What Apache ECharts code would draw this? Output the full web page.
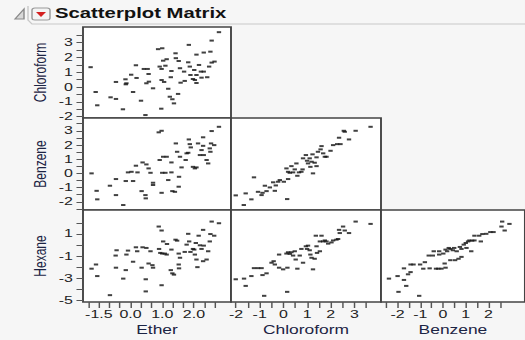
<!DOCTYPE html>
<html>
<head>
<meta charset="utf-8">
<script src="https://cdn.jsdelivr.net/npm/echarts@6/dist/echarts.min.js"></script>
<style>
  html, body { margin: 0; padding: 0; background: #f6f6f6; overflow: hidden; }
  /* the reference is stretched sideways, so the chart is drawn narrow and widened */
  #chart { width: 362px; height: 340px; transform: scaleX(1.45); transform-origin: 0 0; }
</style>
</head>
<body>
<div id="chart"></div>
<script>
// horizontal stretch of the reference picture
const S = 1.45;
const px = v => v / S;

// tick positions and labels per variable
const etherTicks = [-1.333, -1, -0.667, -0.333, 0, 0.333, 0.667, 1, 1.333, 1.667, 2, 2.333, 2.667];
const etherLabels = [-1, 0, 1, 2];
const etherLabelText = ['-1.5', '0.0', '1.0', '2.0'];
const chloroformTicks = [-2, -1.5, -1, -0.5, 0, 0.5, 1, 1.5, 2, 2.5, 3, 3.5];
const chloroformLabels = [-2, -1, 0, 1, 2, 3];
const benzeneYTicks = [-2.5, -2, -1.5, -1, -0.5, 0, 0.5, 1, 1.5, 2, 2.5, 3, 3.5];
const benzeneYLabels = [-2, -1, 0, 1, 2, 3];
const benzeneXTicks = [-2.5, -2, -1.5, -1, -0.5, 0, 0.5, 1, 1.5, 2, 2.5];
const benzeneXLabels = [-2, -1, 0, 1, 2];
const hexaneTicks = [-5, -4, -3, -2, -1, 0, 1, 2];
const hexaneLabels = [-5, -3, -1, 1];

// [x, y] pairs
const ether_chloroform = [
  [-1.26, 1.34], [-1.10, -0.34], [-1.05, -1.24], [-0.63, -0.70], [-0.46, -0.81], [-0.46, 0.34],
  [-0.16, 0.52], [-0.13, 0.25], [-0.15, 0.18], [0.02, 0.83], [0.17, 1.47], [0.19, 0.61],
  [0.08, -0.34], [-0.24, -1.51], [0.33, -0.93], [0.42, 1.22], [0.54, 1.22], [0.57, 0.88],
  [0.50, 0.25], [0.58, 0.36], [0.71, -0.09], [0.47, -1.90], [0.87, 2.56], [1.00, 2.62],
  [1.03, 1.78], [0.92, 1.38], [0.98, 1.22], [1.10, 1.44], [1.14, 1.88], [0.98, 0.47],
  [1.06, 0.34], [1.19, -0.12], [0.97, -1.47], [1.24, -0.66], [1.32, -0.83], [1.37, -1.11],
  [1.50, -0.47], [1.27, 0.66], [1.29, 1.08], [1.42, 2.28], [1.43, 1.95], [1.52, 1.76],
  [1.56, 1.27], [1.58, 0.29], [1.71, 0.41], [1.69, 1.04], [1.82, 1.67], [1.84, 2.85],
  [1.87, 1.38], [1.89, 0.81], [1.97, 0.54], [2.03, 0.47], [2.08, 0.27], [2.01, 1.15],
  [2.08, 2.19], [2.16, 1.49], [2.22, 1.04], [2.24, 0.63], [2.31, 2.33], [2.31, 1.04],
  [2.42, 0.66], [2.48, 1.38], [2.52, 2.39], [2.56, 1.65], [2.65, 1.72], [2.56, 3.14],
  [2.79, 3.71], [2.08, 0.81]
];
const ether_benzene = [
  [-1.23, 0.00], [-1.07, -1.23], [-1.05, -1.83], [-0.65, -0.87], [-0.46, -0.40], [-0.46, -1.53],
  [-0.23, -2.23], [-0.15, -0.54], [-0.08, 0.07], [0.03, 0.11], [0.08, -0.54], [0.17, 0.54],
  [0.22, 0.07], [0.38, 0.77], [0.50, 0.63], [0.57, 0.35], [0.63, 0.04], [0.35, -1.25],
  [0.47, -1.53], [0.48, -1.76], [0.71, -0.66], [0.71, -0.82], [0.89, 2.89], [0.98, 3.00],
  [0.92, 0.94], [1.03, 1.17], [1.14, 1.17], [1.00, 0.04], [1.10, 0.04], [0.98, -1.37],
  [1.19, -0.47], [1.29, 0.77], [1.32, -1.25], [1.40, -1.30], [1.29, 0.07], [1.43, 2.11],
  [1.47, 1.52], [1.56, 1.17], [1.53, -0.24], [1.52, -0.94], [1.61, 0.42], [1.74, 0.94],
  [1.77, 1.41], [1.82, 1.45], [1.87, 2.06], [1.84, 2.39], [1.90, 1.83], [1.97, 0.46],
  [2.03, 0.35], [2.08, 0.42], [2.13, 2.11], [2.19, 1.29], [2.24, 1.64], [2.29, 1.94],
  [2.31, 1.29], [2.29, 2.54], [2.40, 0.94], [2.45, 0.70], [2.50, 1.76], [2.52, 1.52],
  [2.54, 2.11], [2.64, 1.99], [2.56, 2.98], [2.79, 3.28]
];
const ether_hexane = [
  [-1.23, -2.16], [-1.09, -1.78], [-1.05, -2.83], [-0.65, -4.56], [-0.47, -0.97], [-0.46, -2.07],
  [-0.44, -0.49], [-0.23, -3.06], [-0.15, -2.29], [-0.13, -0.88], [-0.08, -0.52], [0.08, -1.53],
  [0.17, -0.22], [0.21, -0.58], [0.35, -2.07], [0.38, -0.22], [0.50, -0.28], [0.48, -3.12],
  [0.48, -4.22], [0.57, -1.69], [0.63, -0.58], [0.69, -1.84], [0.71, -2.07], [0.89, 1.66],
  [0.98, 1.30], [0.90, -0.37], [0.94, -0.73], [1.03, 0.31], [1.00, -0.79], [1.08, -0.79],
  [1.14, -0.88], [1.15, 0.08], [0.98, -3.66], [1.29, -0.43], [1.27, -2.29], [1.32, -2.58],
  [1.37, -2.70], [1.42, 0.47], [1.47, 0.38], [1.52, -0.79], [1.56, -1.17], [1.52, -1.78],
  [1.53, -2.13], [1.71, -0.64], [1.77, 0.02], [1.82, 1.00], [1.85, 0.31], [1.89, -0.64],
  [1.97, -0.37], [2.01, -0.43], [2.03, -0.88], [2.06, 0.17], [2.08, -1.33], [2.11, -2.02],
  [2.15, 0.83], [2.19, -0.04], [2.24, -0.37], [2.29, -1.48], [2.29, 1.36], [2.31, -0.07],
  [2.40, -1.33], [2.45, -0.58], [2.50, 0.31], [2.52, 0.98], [2.64, 0.83], [2.56, 2.11],
  [2.79, 1.96]
];
const chloroform_benzene = [
  [-2.01, -1.55], [-1.67, -2.23], [-1.59, -1.41], [-1.35, -1.83], [-1.24, -0.28], [-1.07, -1.30],
  [-0.92, -1.53], [-0.88, -1.37], [-0.78, -0.87], [-0.71, -1.25], [-0.57, -0.99], [-0.43, -0.63],
  [-0.36, -1.23], [-0.32, -0.85], [-0.22, -0.59], [-0.15, -0.47], [0.02, -0.59], [0.16, -1.81],
  [0.20, -0.40], [0.13, 0.35], [0.20, 0.11], [0.27, 0.04], [0.34, 0.51], [0.41, 0.07],
  [0.48, 0.28], [0.55, 0.70], [0.59, -0.17], [0.66, 0.07], [0.76, 0.11], [0.81, 0.28],
  [0.83, 1.06], [0.95, 1.29], [1.00, 0.89], [1.04, 0.70], [1.11, 1.06], [1.19, 0.82],
  [1.14, 0.46], [1.23, 1.34], [1.25, 0.00], [1.32, 0.75], [1.40, 1.13], [1.40, 0.51],
  [1.46, 1.52], [1.57, 1.69], [1.61, 1.92], [1.68, 1.41], [1.75, 1.17], [1.82, 1.17],
  [1.99, 1.59], [2.10, 1.99], [2.27, 2.06], [2.41, 2.06], [2.35, 2.51], [2.55, 3.00],
  [2.59, 2.93], [2.77, 2.39], [3.05, 3.00], [3.68, 3.28]
];
const chloroform_hexane = [
  [-2.01, -3.12], [-1.66, -3.06], [-1.59, -3.72], [-1.35, -2.83], [-1.24, -2.11], [-1.07, -2.11],
  [-0.92, -2.11], [-0.88, -2.74], [-0.81, -4.62], [-0.71, -2.58], [-0.50, -1.62], [-0.41, -1.48],
  [-0.36, -1.78], [-0.18, -2.07], [-0.18, -0.88], [-0.01, -2.22], [0.16, -4.26], [0.17, -2.07],
  [0.13, -0.79], [0.20, -0.67], [0.27, -0.82], [0.34, -0.67], [0.41, -0.97], [0.48, -0.58],
  [0.52, -1.33], [0.59, -2.16], [0.69, -0.97], [0.76, -0.37], [0.83, -1.62], [0.95, -0.13],
  [1.00, -0.37], [1.04, -0.07], [1.11, -0.49], [1.14, -0.88], [1.19, -1.17], [1.25, -2.22],
  [1.32, -1.26], [1.37, 0.83], [1.40, -0.13], [1.42, -0.73], [1.54, 0.31], [1.61, 0.83],
  [1.68, 0.31], [1.75, 0.40], [1.82, 0.31], [1.54, -0.58], [1.89, 0.11], [2.03, 0.22],
  [2.10, 0.40], [2.24, 0.47], [2.31, 0.53], [2.35, 1.36], [2.38, 1.07], [2.52, 1.66],
  [2.59, 1.30], [2.77, 1.07], [3.05, 2.11], [3.68, 1.90]
];
const benzene_hexane = [
  [-2.38, -3.06], [-2.00, -2.83], [-1.96, -4.26], [-1.72, -3.18], [-1.72, -2.13], [-1.62, -3.72],
  [-1.54, -2.67], [-1.43, -2.47], [-1.43, -1.78], [-1.30, -1.78], [-1.05, -4.62], [-1.01, -1.78],
  [-0.87, -2.16], [-0.80, -1.57], [-0.63, -0.97], [-0.59, -2.13], [-0.45, -0.97], [-0.41, -0.58],
  [-0.31, -2.16], [-0.21, -2.16], [-0.17, -0.58], [-0.17, -0.88], [-0.07, -2.16], [0.01, -0.79],
  [0.07, -1.69], [0.11, -0.43], [0.11, -2.07], [0.18, -0.58], [0.25, -0.28], [0.32, -0.37],
  [0.32, -1.39], [0.43, -0.49], [0.49, -0.28], [0.53, -1.39], [0.60, -0.58], [0.68, -1.26],
  [0.74, -0.19], [0.81, -0.37], [0.81, -1.09], [0.91, 0.02], [1.00, 0.17], [1.03, -0.28],
  [1.10, 0.31], [1.16, 0.40], [1.24, -0.58], [1.28, 0.38], [1.38, 0.40], [1.38, 0.83],
  [1.59, 0.83], [1.66, 0.31], [1.73, 0.98], [1.90, 1.00], [2.08, 1.16], [2.22, 1.16],
  [2.57, 1.66], [2.60, 2.11], [2.71, 1.30], [2.92, 1.90]
];

const FONT = 'Liberation Sans, Arial, sans-serif';
const TICK_COLOR = '#555';
const LABEL_COLOR = '#222';
const NAME_COLOR = '#1c2444';

// each panel: grid box in reference pixels, axis setup, data
const panels = [
  { box: [83, 27, 148, 91], data: ether_chloroform,
    x: { min: -1.5, max: 3.17 },
    y: { min: -2.1, max: 4.06, ticks: chloroformTicks, labels: chloroformLabels, name: 'Chloroform' } },
  { box: [83, 118, 148, 92], data: ether_benzene,
    x: { min: -1.5, max: 3.17 },
    y: { min: -2.58, max: 3.9, ticks: benzeneYTicks, labels: benzeneYLabels, name: 'Benzene' } },
  { box: [83, 210, 148, 92], data: ether_hexane,
    x: { min: -1.5, max: 3.17, ticks: etherTicks, labels: etherLabels, text: etherLabelText, name: 'Ether' },
    y: { min: -5.18, max: 3.16, ticks: hexaneTicks, labels: hexaneLabels, name: 'Hexane' } },
  { box: [231, 118, 150, 92], data: chloroform_benzene,
    x: { min: -2.21, max: 4.12 },
    y: { min: -2.58, max: 3.9 } },
  { box: [231, 210, 150, 92], data: chloroform_hexane,
    x: { min: -2.21, max: 4.12, ticks: chloroformTicks, labels: chloroformLabels, name: 'Chloroform' },
    y: { min: -5.18, max: 3.16 } },
  { box: [381, 210, 150, 92], data: benzene_hexane,
    x: { min: -2.73, max: 3.6, ticks: benzeneXTicks, labels: benzeneXLabels, name: 'Benzene' },
    y: { min: -5.18, max: 3.16 } }
];

function makeAxis(def, i, isX) {
  const axis = {
    type: 'value',
    gridIndex: i,
    min: def.min,
    max: def.max,
    // keep the axis on the panel edge, not at zero
    axisLine: { show: false, onZero: false },
    splitLine: { show: false },
    axisTick: { show: false },
    axisLabel: { show: false }
  };
  if (!def.ticks) return axis;
  axis.axisTick = {
    show: true,
    customValues: def.ticks,
    length: isX ? 6 : 4.5,
    lineStyle: { color: TICK_COLOR, width: 1 }
  };
  axis.axisLabel = {
    show: true,
    customValues: def.labels,
    margin: 7,
    fontSize: 11,
    fontFamily: FONT,
    color: LABEL_COLOR,
    formatter: def.text ? (v => def.text[def.labels.indexOf(v)]) : (v => String(v))
  };
  axis.name = def.name;
  axis.nameLocation = 'middle';
  axis.nameGap = isX ? 22 : 24;
  axis.nameTextStyle = { fontSize: 12, fontFamily: FONT, color: NAME_COLOR };
  return axis;
}

const chart = echarts.init(document.getElementById('chart'), null, { renderer: 'svg' });

chart.setOption({
  backgroundColor: '#f6f6f6',
  animation: false,
  grid: panels.map(p => ({
    left: px(p.box[0]),
    top: p.box[1],
    width: px(p.box[2]),
    height: p.box[3],
    show: true,
    backgroundColor: '#fff',
    borderColor: '#444',
    borderWidth: 1.3
  })),
  xAxis: panels.map((p, i) => makeAxis(p.x, i, true)),
  yAxis: panels.map((p, i) => makeAxis(p.y, i, false)),
  series: panels.map((p, i) => ({
    type: 'scatter',
    xAxisIndex: i,
    yAxisIndex: i,
    data: p.data,
    symbol: 'rect',
    symbolSize: [3, 2],
    silent: true,
    itemStyle: { color: '#111' }
  })),
  graphic: [
    // outline of the report box
    {
      type: 'polyline',
      shape: { points: [[px(28), 6], [px(28), 20], [px(32), 24], [px(525), 24]] },
      style: { stroke: '#c8c8c8', fill: null, lineWidth: 1 }
    },
    // disclosure triangle
    {
      type: 'polygon',
      shape: { points: [[px(15), 19], [px(24), 19], [px(24), 9]] },
      style: { fill: '#d8d8d8', stroke: '#8a8a8a', lineWidth: 1 }
    },
    // red hotspot button
    {
      type: 'rect',
      shape: { x: px(32), y: 8, width: px(18), height: 12, r: 2 },
      style: { fill: '#f4f4f4', stroke: '#9a9a9a', lineWidth: 1 }
    },
    {
      type: 'polygon',
      shape: { points: [[px(36), 12], [px(46), 12], [px(41), 17]] },
      style: { fill: '#d42020' }
    },
    {
      type: 'text',
      x: px(55),
      y: 13,
      style: {
        text: 'Scatterplot Matrix',
        font: 'bold 14px ' + FONT,
        fill: '#111',
        verticalAlign: 'middle'
      }
    }
  ]
});
</script>
</body>
</html>
